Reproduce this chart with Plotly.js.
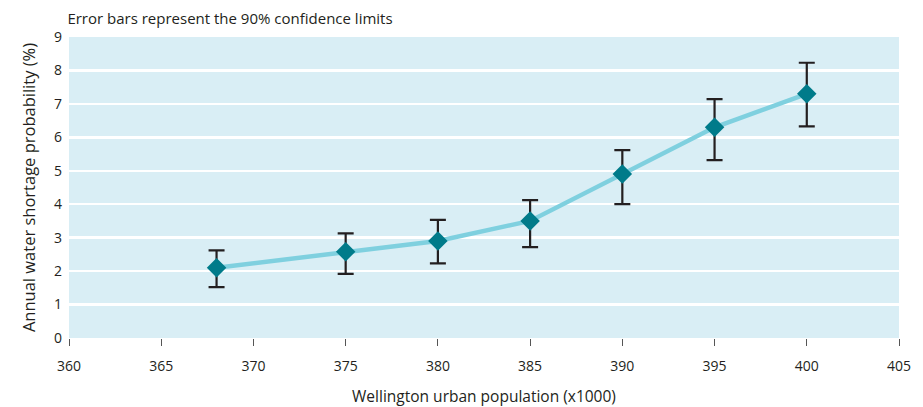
<!DOCTYPE html>
<html><head><meta charset="utf-8">
<script src="https://cdn.plot.ly/plotly-3.0.1.min.js"></script>
<style>body{margin:0;background:#fff}#chart{width:923px;height:407px}</style>
</head><body><div id="chart"></div>
<script>
const population = [368, 375, 380, 385, 390, 395, 400];
const probability = [2.1, 2.58, 2.9, 3.5, 4.9, 6.3, 7.3];
const upperLimit = [2.62, 3.13, 3.53, 4.12, 5.62, 7.14, 8.23];
const lowerLimit = [1.52, 1.92, 2.23, 2.72, 4.0, 5.32, 6.33];
const xTicks = [360, 365, 370, 375, 380, 385, 390, 395, 400, 405];
const yTicks = [0, 1, 2, 3, 4, 5, 6, 7, 8, 9];

const errPlus = probability.map((v, i) => upperLimit[i] - v);
const errMinus = probability.map((v, i) => v - lowerLimit[i]);

const font = "Open Sans, Noto Sans, sans-serif";

const traces = [
  {
    x: population, y: probability, type: 'scatter', mode: 'lines',
    line: {color: '#7fd0df', width: 4.5}, hoverinfo: 'skip', showlegend: false
  },
  {
    x: population, y: probability, type: 'scatter', mode: 'markers',
    marker: {symbol: 'diamond', size: 15, color: '#007b8a'},
    error_y: {type: 'data', symmetric: false, array: errPlus, arrayminus: errMinus,
      color: '#231f20', thickness: 2.2, width: 8},
    showlegend: false
  }
];

const layout = {
  width: 923, height: 407,
  margin: {l: 69, r: 24, t: 37, b: 69},
  paper_bgcolor: '#ffffff', plot_bgcolor: '#d9eef5',
  font: {family: font, size: 14, color: '#231f20'},
  title: {text: 'Error bars represent the 90% confidence limits', xref: 'container', yref: 'container',
    x: 0.073, xanchor: 'left', y: 0.955, yanchor: 'middle', font: {family: font, size: 15, color: '#231f20'}},
  xaxis: {
    range: [360, 405], tickvals: xTicks, ticktext: xTicks.map(String),
    showgrid: false, zeroline: false, showline: false,
    ticks: 'outside', ticklen: 7, tickwidth: 1, tickcolor: '#555',
    ticklabelstandoff: 8,
    tickfont: {size: 14}, automargin: false,
    title: {text: 'Wellington urban population (x1000)', font: {size: 15.5}, standoff: 20}
  },
  yaxis: {
    range: [0, 9], tickvals: yTicks, ticktext: yTicks.map(String),
    showgrid: true, gridcolor: '#ffffff', gridwidth: 2.5, zeroline: false, showline: false,
    ticks: '', tickfont: {size: 14}, automargin: false,
    ticklabelstandoff: 6,
    title: {text: 'Annual water shortage probability (%)', font: {size: 16.5}, standoff: 14}
  }
};

Plotly.newPlot('chart', traces, layout, {displayModeBar: false, staticPlot: true});
</script></body></html>
